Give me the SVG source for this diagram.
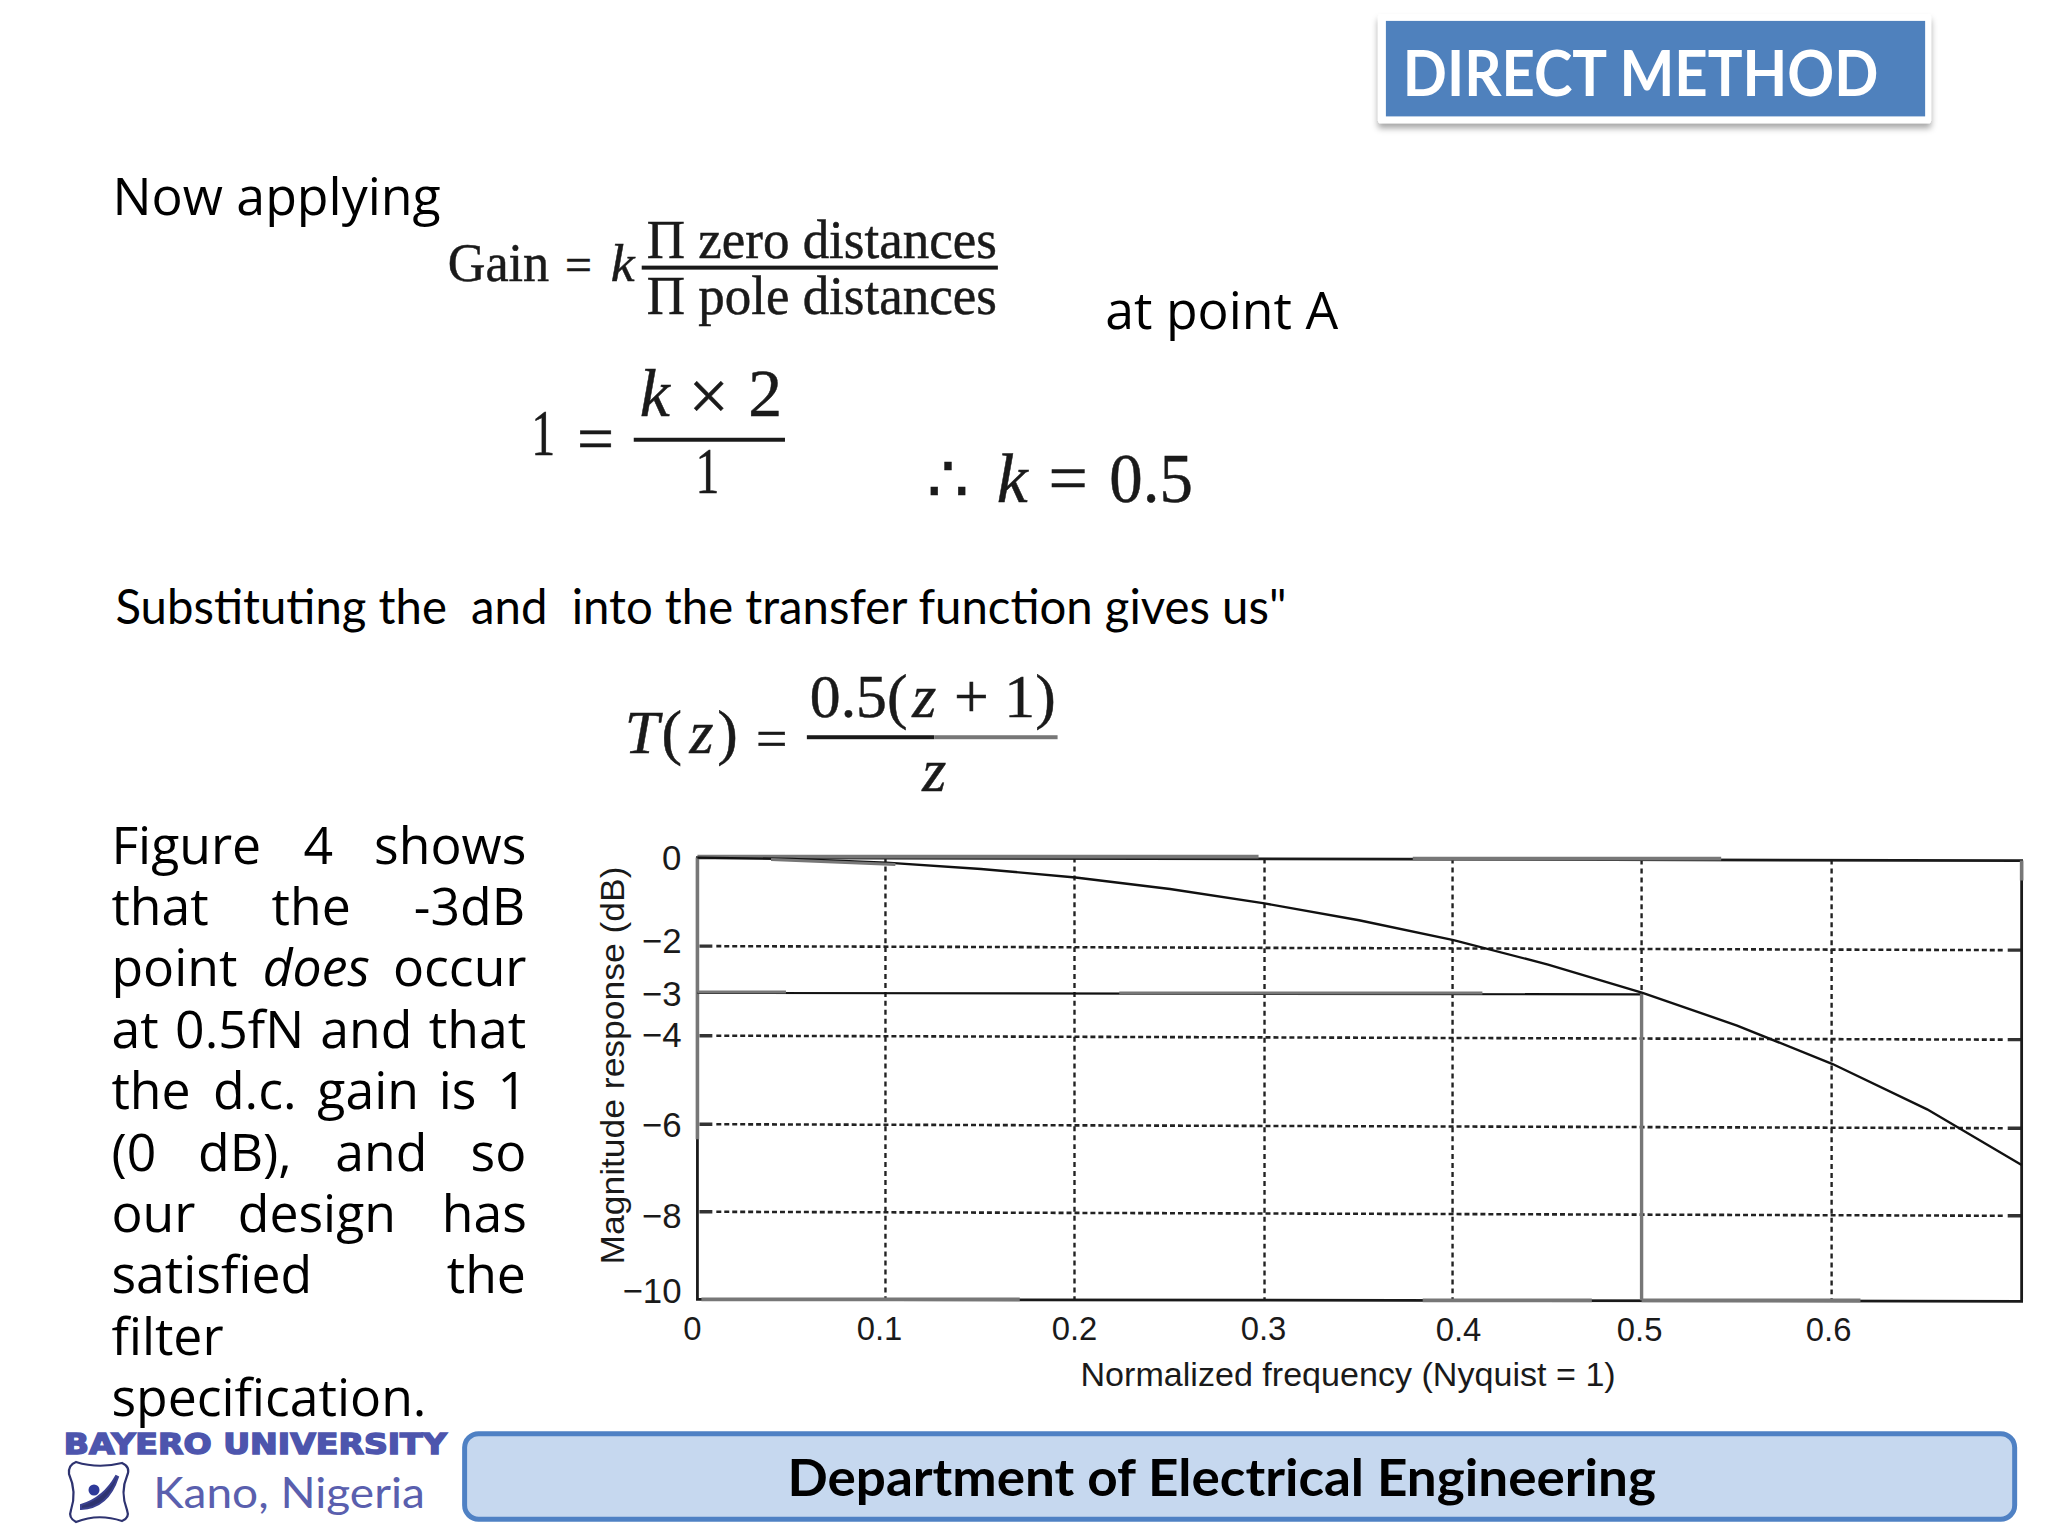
<svg xmlns="http://www.w3.org/2000/svg" width="2048" height="1536" viewBox="0 0 2048 1536">
<style>
.os{font-family:"Open Sans","Noto Sans",sans-serif;font-size:52px;fill:#000}
.la{font-family:Lato,"Liberation Sans",sans-serif;fill:#000}
.ma{font-family:"Liberation Serif",serif;fill:#1a1a1a;stroke:#1a1a1a;stroke-width:.5}
.i{font-style:italic}
.ax{font-family:"Liberation Sans",sans-serif;font-size:33px;fill:#1a1a1a}
.yt{font-size:35px;text-anchor:end}
.gh{fill:none;stroke:#222;stroke-width:2.6;stroke-dasharray:5 3}
.gv{fill:none;stroke:#222;stroke-width:2.4;stroke-dasharray:5 4}
.fr{fill:none;stroke:#1a1a1a;stroke-width:2.8}
.hl{fill:none;stroke:#777;stroke-width:3.6}
</style>
<defs>
<filter id="sh" x="-5%" y="-20%" width="110%" height="150%"><feDropShadow dx="0" dy="5" stdDeviation="3" flood-color="#000" flood-opacity="0.35"/></filter>
</defs>
<rect width="2048" height="1536" fill="#fff"/>
<g transform="scale(0.9949)">
<g id="title">
<rect x="1385" y="14" width="556" height="110" rx="3" fill="#fff" filter="url(#sh)"/>
<rect x="1393" y="21" width="542" height="96" fill="#4f81bd"/>
<text x="1410" y="97" class="la" font-size="64" font-weight="700" style="fill:#fff" textLength="478" lengthAdjust="spacingAndGlyphs">DIRECT METHOD</text>
</g>
<g id="text1">
<text x="113" y="216" class="os" textLength="330" lengthAdjust="spacingAndGlyphs">Now applying</text>
<text x="1111" y="331" class="os" textLength="234" lengthAdjust="spacingAndGlyphs">at point A</text>
<text x="116" y="627" class="la" font-size="48" style="white-space:pre" textLength="1177" lengthAdjust="spacingAndGlyphs">Substituting the  and  into the transfer function gives us"</text>
</g>
<g id="formula-gain">
<text x="450" y="282" class="ma" font-size="56" textLength="102" lengthAdjust="spacingAndGlyphs">Gain</text>
<text x="568" y="282" class="ma" font-size="48" stroke-width="1">=</text>
<text x="614" y="282" class="ma i" font-size="54">k</text>
<text x="650" y="259" class="ma" font-size="56" textLength="352" lengthAdjust="spacingAndGlyphs">Π zero distances</text>
<rect x="645" y="267" width="358" height="4" fill="#1a1a1a"/>
<text x="650" y="316" class="ma" font-size="56" textLength="352" lengthAdjust="spacingAndGlyphs">Π pole distances</text>
</g>
<g id="formula-k">
<text x="534" y="457" class="ma" font-size="66" textLength="24" lengthAdjust="spacingAndGlyphs">1</text>
<text x="580" y="463" class="ma" font-size="66" stroke-width="2">=</text>
<text x="643" y="418" class="ma i" font-size="68">k</text>
<text x="692" y="422" class="ma" font-size="72">×</text>
<text x="752" y="418" class="ma" font-size="68">2</text>
<rect x="637" y="440" width="152" height="4" fill="#1a1a1a"/>
<text x="699" y="496" class="ma" font-size="66" textLength="24" lengthAdjust="spacingAndGlyphs">1</text>
<text x="932" y="505" class="ma" font-size="66">∴</text>
<text x="1002" y="505" class="ma i" font-size="70">k</text>
<text x="1054" y="505" class="ma" font-size="70" stroke-width="1">=</text>
<text x="1115" y="505" class="ma" font-size="70" textLength="84" lengthAdjust="spacingAndGlyphs">0.5</text>
</g>
<g id="formula-tz">
<text x="628" y="757" class="ma i" font-size="62">T</text>
<text x="665" y="757" class="ma" font-size="62">(</text>
<text x="693" y="757" class="ma i" font-size="62">z</text>
<text x="721" y="757" class="ma" font-size="62">)</text>
<text x="760" y="761" class="ma" font-size="56" stroke-width="1">=</text>
<text x="814" y="721" class="ma" font-size="62">0.5(</text>
<text x="917" y="721" class="ma i" font-size="62">z</text>
<text x="959" y="721" class="ma" font-size="62">+ 1)</text>
<rect x="811" y="739" width="128" height="4" fill="#1a1a1a"/><rect x="939" y="739" width="124" height="4" fill="#777"/>
<text x="927" y="795" class="ma i" font-size="62">z</text>
</g>
<g id="paragraph">
<text class="os" x="112" y="868">Figure</text><text class="os" x="305" y="868">4</text><text class="os" x="376" y="868">shows</text>
<text class="os" x="112" y="930">that</text><text class="os" x="273" y="930">the</text><text class="os" x="416" y="930">-3dB</text>
<text class="os" x="112" y="991">point</text><text class="os i" x="264" y="991">does</text><text class="os" x="395" y="991">occur</text>
<text class="os" x="112" y="1053">at</text><text class="os" x="176" y="1053">0.5fN</text><text class="os" x="322" y="1053">and</text><text class="os" x="431" y="1053">that</text>
<text class="os" x="112" y="1115">the</text><text class="os" x="214" y="1115">d.c.</text><text class="os" x="319" y="1115">gain</text><text class="os" x="441" y="1115">is</text><text class="os" x="500" y="1115">1</text>
<text class="os" x="112" y="1177">(0</text><text class="os" x="199" y="1177">dB),</text><text class="os" x="337" y="1177">and</text><text class="os" x="473" y="1177">so</text>
<text class="os" x="112" y="1238">our</text><text class="os" x="239" y="1238">design</text><text class="os" x="444" y="1238">has</text>
<text class="os" x="112" y="1300">satisfied</text><text class="os" x="449" y="1300">the</text>
<text class="os" x="112" y="1362">filter</text>
<text class="os" x="112" y="1423">specification.</text>
</g>
<g id="chart">
<g id="grid">
<path class="gv" d="M890 862V1306M1080 862V1307M1271 863V1307M1460 863V1307M1650 864V1000M1841 864V1307"/>
<path class="gh" d="M720 951L2015 955M720 1041L2015 1045M720 1130L2015 1134M720 1218L2015 1222"/>
<path d="M703 951H716M703 1041H716M703 1130H716M703 1218H716M2018 955H2032M2018 1045H2032M2018 1134H2032M2018 1222H2032" fill="none" stroke="#333" stroke-width="3.4"/>
</g>
<path class="fr" d="M701 862L2032 865V1308L701 1306Z"/>
<path class="hl" d="M701 862V1145M701 861H1265M1420 863H1730M705 1306H1025M1430 1307H1600M1650 1307H1870M2032 865V885"/>
<path d="M701 998L1650 999.5" fill="none" stroke="#111" stroke-width="2.2"/>
<path d="M701 997H790M1125 998H1490" fill="none" stroke="#777" stroke-width="3"/>
<path d="M1650 999V1307" fill="none" stroke="#777" stroke-width="3.4"/>
<polyline fill="none" stroke="#111" stroke-width="2.4" points="701,862 796,863.4 891,867 986,873.4 1081,882 1176,893.6 1271,908 1366,925 1461,945 1556,969.5 1651,998 1746,1030.8 1842,1069.5 1937,1115 2032,1171"/>
<path d="M775 864L900 869" fill="none" stroke="#777" stroke-width="3"/>
<g id="y-ticks">
<text class="ax yt" x="685" y="874">0</text>
<text class="ax yt" x="685" y="958">−2</text>
<text class="ax yt" x="685" y="1011">−3</text>
<text class="ax yt" x="685" y="1052">−4</text>
<text class="ax yt" x="685" y="1143">−6</text>
<text class="ax yt" x="685" y="1234">−8</text>
<text class="ax yt" x="685" y="1310">−10</text>
</g>
<g id="x-ticks">
<text class="ax" x="696" y="1347" text-anchor="middle">0</text>
<text class="ax" x="884" y="1347" text-anchor="middle">0.1</text>
<text class="ax" x="1080" y="1347" text-anchor="middle">0.2</text>
<text class="ax" x="1270" y="1347" text-anchor="middle">0.3</text>
<text class="ax" x="1466" y="1348" text-anchor="middle">0.4</text>
<text class="ax" x="1648" y="1348" text-anchor="middle">0.5</text>
<text class="ax" x="1838" y="1348" text-anchor="middle">0.6</text>
</g>
<text class="ax" x="1086" y="1393" textLength="538" lengthAdjust="spacingAndGlyphs">Normalized frequency (Nyquist = 1)</text>
<text class="ax" transform="translate(627 1271) rotate(-90)" textLength="400" lengthAdjust="spacingAndGlyphs">Magnitude response (dB)</text>
</g>
<g id="logo-text">
<text x="64" y="1461" font-family="DejaVu Sans" font-weight="700" font-size="28" fill="#4d55ad" stroke="#4d55ad" stroke-width="1.5" textLength="385" lengthAdjust="spacingAndGlyphs">BAYERO UNIVERSITY</text>
<text x="154" y="1516" font-family="Lato" font-size="42" fill="#5a5fae" textLength="273" lengthAdjust="spacingAndGlyphs">Kano, Nigeria</text>
</g>
<g id="footer">
<rect x="467" y="1441" width="1558" height="86" rx="14" fill="#c6d8ef" stroke="#4f81c4" stroke-width="5"/>
<text x="1228" y="1504" class="la" font-size="52" font-weight="700" text-anchor="middle" textLength="873" lengthAdjust="spacingAndGlyphs">Department of Electrical Engineering</text>
</g>
</g>
<g id="logo-emblem">
<path d="M76 1462Q98 1469 122 1463Q131 1467 127 1476Q120 1492 127 1510Q130 1518 122 1521Q98 1513 76 1522Q68 1518 71 1510Q77 1492 69 1474Q68 1465 76 1462Z" fill="#fff" stroke="#2e3370" stroke-width="2.2"/>
<circle cx="94" cy="1490" r="5.5" fill="#2e3a9a"/>
<path d="M81 1509Q108 1508 118 1477L116 1476Q104 1498 81 1505Z" fill="#2e3370" stroke="#3a4090" stroke-width="2"/>
</g>
</svg>
